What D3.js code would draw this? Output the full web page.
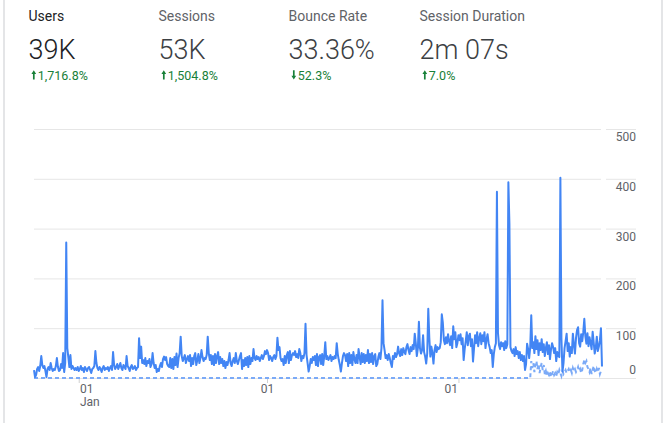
<!DOCTYPE html>
<html><head><meta charset="utf-8">
<script src="https://cdn.jsdelivr.net/npm/d3@7"></script>
<style>
html,body{margin:0;padding:0;background:#fff;}
svg{display:block;font-family:Roboto, "Noto Sans", Arial, sans-serif;}
</style></head>
<body><svg id="c" width="666" height="423"></svg>
<script>
// ---- KPI data ----
const metricNames = ["Users", "Sessions", "Bounce Rate", "Session Duration"];
const metricValues = ["39K", "53K", "33.36%", "2m 07s"];
const metricChanges = ["1,716.8%", "1,504.8%", "52.3%", "7.0%"];
const metricDirections = ["up", "up", "down", "up"];

// ---- chart data (daily) ----
const startDate = new Date(2021, 10, 19);
const users = [
16,2,6,18,22,14,24,44,26,20,
24,14,2,18,22,16,30,20,14,18,
16,24,40,22,14,16,28,20,50,12,
30,272,60,42,22,46,18,24,20,16,
20,16,22,14,18,24,16,20,12,22,
18,14,20,22,16,10,18,20,24,54,
30,20,16,22,18,12,20,24,16,20,
18,22,14,20,24,16,52,26,18,22,
28,18,24,30,20,16,26,22,18,44,
24,20,14,22,26,18,20,24,16,20,
22,80,40,63,30,36,28,40,24,34,
30,38,22,28,50,30,20,26,12,18,
14,24,30,22,38,43,36,42,28,24,
22,40,20,38,18,42,26,49,22,40,
50,83,44,34,40,46,30,38,44,34,
46,24,40,28,44,50,26,36,48,30,
40,56,42,34,40,38,46,83,50,36,
46,28,44,26,48,30,44,52,28,42,
30,38,24,34,20,32,26,36,50,30,
24,34,40,30,50,34,28,36,44,50,
18,36,24,40,26,42,22,44,28,40,
34,58,40,36,44,38,42,34,40,46,
38,44,54,48,56,50,36,44,40,34,
42,46,38,44,81,56,62,40,34,38,
26,44,30,46,52,30,54,36,46,50,
46,54,42,48,40,58,50,34,44,40,
50,109,46,30,13,24,38,30,42,36,
44,26,48,24,42,46,28,48,26,44,
72,38,44,36,40,46,34,42,38,44,
40,70,48,36,26,13,30,44,50,46,
34,48,24,50,30,46,26,52,38,30,
46,30,58,42,28,50,32,48,30,46,
34,56,30,48,32,50,28,44,48,24,
28,42,50,38,60,156,70,56,40,46,
36,48,40,30,22,44,38,50,42,48,
63,50,44,58,46,60,52,48,62,68,
56,48,62,54,66,58,89,70,44,60,
113,60,49,56,86,52,43,29,50,139,
80,43,63,50,29,56,66,52,62,58,
60,72,128,111,76,68,82,70,88,74,
66,84,60,104,78,92,62,70,86,76,
88,68,80,36,58,74,92,66,84,89,
64,78,33,60,86,70,92,64,80,90,
68,86,74,92,60,78,88,70,62,50,
56,22,48,62,70,374,90,66,58,72,
64,70,56,74,60,68,393,310,62,54,
50,58,44,62,48,54,40,52,36,46,
34,44,16,28,69,58,40,62,126,60,
72,50,84,58,76,46,70,56,78,52,
68,44,60,72,48,66,38,58,70,62,
50,60,34,52,44,42,402,80,13,30,
60,74,89,54,70,43,62,50,89,66,
49,80,96,102,70,63,88,74,92,119,
84,69,90,64,82,70,58,93,72,49,
60,83,54,63,76,100,23
];
// previous period: flat at zero until day 477, then these daily values
const previousFlatUntil = 477;
const previous = [
0,34,20,30,12,26,34,18,28,10,22,30,16,
26,8,14,4,10,6,12,2,8,14,
6,10,4,12,8,16,10,4,14,8,
12,16,10,14,18,12,16,10,20,14,
18,12,16,22,14,18,10,16,28,36,
30,34,22,18,12,20,8,16,24,14,
10,18,12,20,8,14,10
];
const yTicks = [0, 100, 200, 300, 400, 500];
const xTickDates = [new Date(2022, 0, 1), new Date(2022, 6, 1), new Date(2023, 0, 1)];
const xTickLabels = [["01", "Jan"], ["01"], ["01"]];
const xTickAnchors = ["start", "middle", "end"];

const svg = d3.select("#c");

// card edges
svg.append("line").attr("x1", 4).attr("x2", 4).attr("y1", 0).attr("y2", 423)
  .attr("stroke", "#e4e5e7").attr("stroke-width", 2);
svg.append("line").attr("x1", 662).attr("x2", 662).attr("y1", 0).attr("y2", 423)
  .attr("stroke", "#e4e5e7").attr("stroke-width", 2);

// KPIs
const colX = [28.5, 158.5, 288.5, 419.5];
metricNames.forEach((name, i) => {
  const g = svg.append("g").attr("transform", `translate(${colX[i]},0)`);
  g.append("text").attr("x", 0).attr("y", 21).attr("font-size", 14)
    .attr("fill", i === 0 ? "#202124" : "#5f6368").text(name);
  g.append("text").attr("x", 0).attr("y", 59.3).attr("font-size", 27).attr("font-weight", 300)
    .attr("fill", i === 0 ? "#202124" : "#3c4043").text(metricValues[i]);
  const cx = 5.3;
  const p = metricDirections[i] === "up"
    ? `M${cx},70.3 L${cx + 2.4},74 L${cx + 0.85},74 L${cx + 0.85},79.5 L${cx - 0.85},79.5 L${cx - 0.85},74 L${cx - 2.4},74 Z`
    : `M${cx},79.5 L${cx + 2.4},75.8 L${cx + 0.85},75.8 L${cx + 0.85},70.3 L${cx - 0.85},70.3 L${cx - 0.85},75.8 L${cx - 2.4},75.8 Z`;
  g.append("path").attr("d", p).attr("fill", "#188038");
  g.append("text").attr("x", 9.3).attr("y", 79.5).attr("font-size", 12.5)
    .attr("fill", "#188038").text(metricChanges[i]);
});

// scales
const endDate = d3.timeDay.offset(startDate, users.length - 1);
const x = d3.scaleTime().domain([startDate, endDate]).range([34, 602]);
const y = d3.scaleLinear().domain([0, 500]).range([378, 129]);

// gridlines
const grid = svg.append("g").attr("transform", "translate(601,0)")
  .call(d3.axisLeft(y).tickValues(yTicks).tickSize(567).tickFormat(""));
grid.select(".domain").remove();
grid.selectAll("line").attr("stroke", "#e6e6e6");

// right label gridline segments + labels
const ya = svg.append("g").attr("transform", "translate(636,0)")
  .call(d3.axisLeft(y).tickValues(yTicks).tickSize(30));
ya.select(".domain").remove();
ya.selectAll("line").attr("stroke", "#e6e6e6").attr("x2", d => d === 0 ? -35 : -30);
ya.selectAll("text").attr("x", 0).attr("text-anchor", "end").attr("dy", null)
  .attr("y", d => d === 0 ? -4.4 : 11.5)
  .attr("font-size", 12).attr("font-family", "Roboto").attr("fill", "#5f6368");

// x axis
const xa = svg.append("g").attr("transform", "translate(0,378)")
  .call(d3.axisBottom(x).tickValues(xTickDates).tickSize(5).tickFormat(""));
xa.select(".domain").remove();
xa.selectAll("line").attr("stroke", "#d0d0d0");
xa.selectAll(".tick").each(function (d, i) {
  const dx = xTickAnchors[i] === "start" ? 0.7 : xTickAnchors[i] === "end" ? -1 : 0;
  xTickLabels[i].forEach((lab, k) => {
    d3.select(this).append("text").attr("fill", "#5f6368").attr("font-size", 12)
      .attr("font-family", "Roboto").attr("text-anchor", xTickAnchors[i])
      .attr("x", dx).attr("y", 15.3 + k * 12.6).text(lab);
  });
});

// previous period dashed line
const prevPts = [[startDate, 0]].concat(previous.map((v, k) => [d3.timeDay.offset(startDate, previousFlatUntil + k), v]));
svg.append("path").datum(prevPts)
  .attr("fill", "none").attr("stroke", "#7baaf7").attr("stroke-width", 2)
  .attr("stroke-dasharray", "4,3")
  .attr("d", d3.line().x(d => x(d[0])).y(d => y(d[1])));

// main line
svg.append("path").datum(users)
  .attr("fill", "none").attr("stroke", "#4285f4").attr("stroke-width", 2)
  .attr("stroke-linejoin", "round")
  .attr("d", d3.line().x((d, i) => x(d3.timeDay.offset(startDate, i))).y(d => y(d)));
</script>
</body></html>
